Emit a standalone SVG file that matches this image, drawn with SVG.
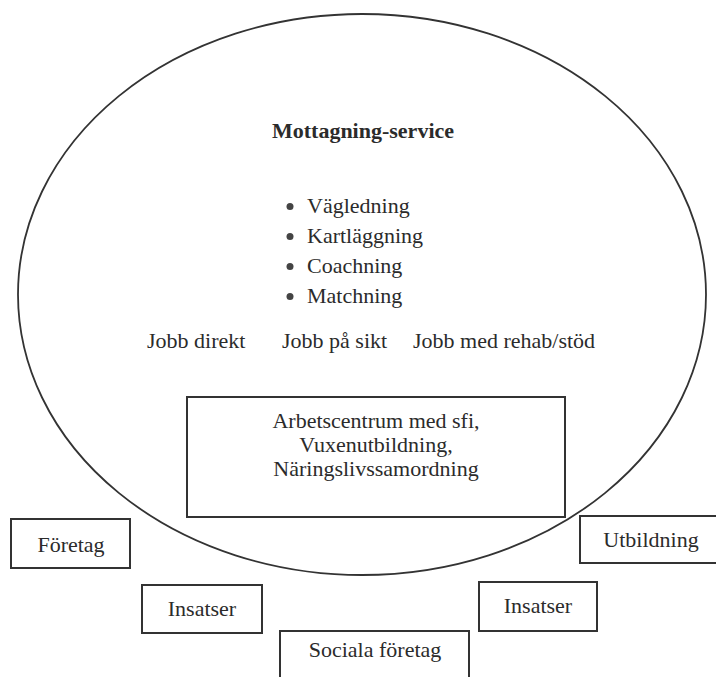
<svg xmlns="http://www.w3.org/2000/svg" width="716" height="677" viewBox="0 0 716 677">
<style>
.t{font-family:"Liberation Serif","Times New Roman",serif;font-size:22px;fill:#2b2b2b}
.c{text-anchor:middle}
.b{font-weight:bold}
.box{fill:#fff;stroke:#333;stroke-width:2}
.outline{fill:none;stroke:#333;stroke-width:1.8}
.dot{fill:#444}
</style>
<rect width="716" height="677" fill="#fff"/>
<g id="mottagning-service">
<ellipse class="outline" cx="362" cy="294.5" rx="344" ry="280.5"/>
<text class="t b c" x="363" y="138">Mottagning-service</text>
<circle class="dot" cx="290" cy="206.5" r="3.5"/>
<text class="t" x="307" y="213">Vägledning</text>
<circle class="dot" cx="290" cy="236.5" r="3.5"/>
<text class="t" x="307" y="243">Kartläggning</text>
<circle class="dot" cx="290" cy="266.5" r="3.5"/>
<text class="t" x="307" y="273">Coachning</text>
<circle class="dot" cx="290" cy="296.5" r="3.5"/>
<text class="t" x="307" y="303">Matchning</text>
<text class="t" x="147" y="348">Jobb direkt</text>
<text class="t" x="282" y="348">Jobb på sikt</text>
<text class="t" x="413" y="348">Jobb med rehab/stöd</text>
</g>
<g id="arbetscentrum">
<rect class="box" x="187" y="397" width="378" height="120"/>
<text class="t c" x="376" y="428">Arbetscentrum med sfi,</text>
<text class="t c" x="376" y="452">Vuxenutbildning,</text>
<text class="t c" x="376" y="476">Näringslivssamordning</text>
</g>
<g id="foretag">
<rect class="box" x="11" y="519" width="119" height="49"/>
<text class="t c" x="71" y="552">Företag</text>
</g>
<g id="utbildning">
<rect class="box" x="580" y="516" width="145" height="47"/>
<text class="t c" x="651" y="547">Utbildning</text>
</g>
<g id="insatser-left">
<rect class="box" x="142" y="585" width="120" height="48"/>
<text class="t c" x="202" y="616">Insatser</text>
</g>
<g id="insatser-right">
<rect class="box" x="479" y="582" width="118" height="49"/>
<text class="t c" x="538" y="613">Insatser</text>
</g>
<g id="sociala-foretag">
<rect class="box" x="280" y="631" width="189" height="60"/>
<text class="t c" x="375" y="657">Sociala företag</text>
</g>
<g id="connectors"/>
</svg>
